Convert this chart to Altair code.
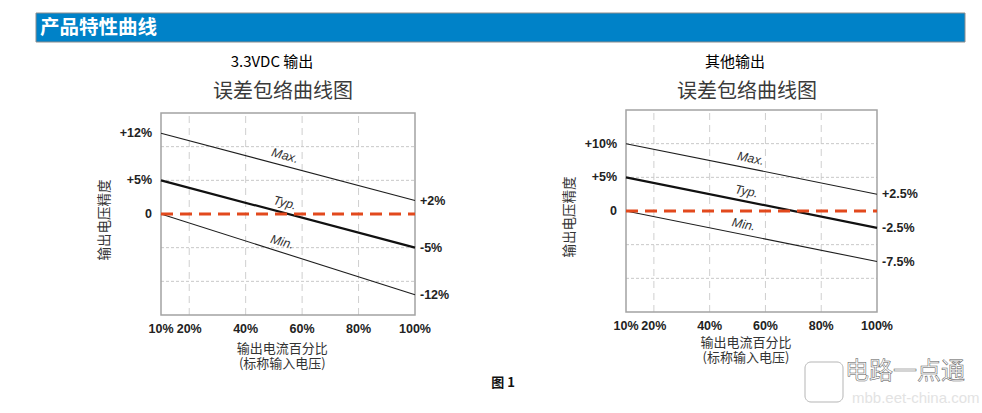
import altair as alt
import pandas as pd

# ---------------- data ----------------
X_DOMAIN = [10, 100]
Y_DOMAIN = [-15, 15]
series_names = ["Max.", "Typ.", "Min."]
x_ends = [10, 100]

left_max = [12, 2]
left_typ = [5, -5]
left_min = [0, -12]
right_max = [10, 2.5]
right_typ = [5, -2.5]
right_min = [0, -7.5]

left_start_labels = ["+12%", "+5%", "0"]
left_end_labels = ["+2%", "-5%", "-12%"]
right_start_labels = ["+10%", "+5%", "0"]
right_end_labels = ["+2.5%", "-2.5%", "-7.5%"]

x_tick_values = [10, 20, 40, 60, 80, 100]
x_tick_labels = ["10%", "20%", "40%", "60%", "80%", "100%"]
v_grid_values = [20, 40, 60, 80]
h_grid_values = [-10, -5, 5, 10]
zero_value = [0]

left_name_x = [53, 53, 52]
right_name_x = [54, 52.5, 51.5]

header_text = "产品特性曲线"
left_title = "3.3VDC 输出"
right_title = "其他输出"
subtitle = "误差包络曲线图"
y_title = "输出电压精度"
x_title = "输出电流百分比\n(标称输入电压)"
caption = "图 1"

CJK = "Noto Sans CJK SC"
LAT = "Liberation Sans"


def panel(maxv, typv, minv, start_labels, end_labels, name_x, xr, yr, angle, xt_dy):
    xs = alt.Scale(domain=X_DOMAIN, range=xr, nice=False, zero=False)
    ys = alt.Scale(domain=Y_DOMAIN, range=yr, nice=False, zero=False)

    def X(f):
        return alt.X(f, type="quantitative", scale=xs, axis=None)

    def Y(f):
        return alt.Y(f, type="quantitative", scale=ys, axis=None)

    vals = {"Max.": maxv, "Typ.": typv, "Min.": minv}
    lines_df = pd.DataFrame(
        [{"series": s, "x": x, "y": vals[s][i]} for s in series_names for i, x in enumerate(x_ends)]
    )
    vgrid = pd.DataFrame({"x": v_grid_values, "y0": Y_DOMAIN[0], "y1": Y_DOMAIN[1]})
    hgrid = pd.DataFrame({"y": h_grid_values, "x0": X_DOMAIN[0], "x1": X_DOMAIN[1]})
    frame = pd.DataFrame({"x0": [X_DOMAIN[0]], "x1": [X_DOMAIN[1]], "y0": [Y_DOMAIN[0]], "y1": [Y_DOMAIN[1]]})
    zero = pd.DataFrame({"y": zero_value, "x0": X_DOMAIN[0], "x1": X_DOMAIN[1]})
    starts = pd.DataFrame({"x": x_ends[0], "y": [vals[s][0] for s in series_names], "label": start_labels})
    ends = pd.DataFrame({"x": x_ends[1], "y": [vals[s][1] for s in series_names], "label": end_labels})
    ticks = pd.DataFrame({"x": x_tick_values, "y": Y_DOMAIN[0], "label": x_tick_labels})
    names = pd.DataFrame({
        "series": series_names,
        "x": name_x,
        "y": [vals[s][0] + (vals[s][1] - vals[s][0]) * (nx - x_ends[0]) / (x_ends[1] - x_ends[0])
              for s, nx in zip(series_names, name_x)],
    })
    ytitle_df = pd.DataFrame({"x": [X_DOMAIN[0]], "y": [0], "t": [y_title]})
    xtitle_df = pd.DataFrame({"x": [53], "y": [Y_DOMAIN[0]], "t": [x_title]})

    l_vgrid = alt.Chart(vgrid).mark_rule(color="#cfcfcf", strokeWidth=1, strokeDash=[7, 5]).encode(
        x=X("x"), y=Y("y0"), y2="y1")
    l_hgrid = alt.Chart(hgrid).mark_rule(color="#c8c8c8", strokeWidth=1, strokeDash=[3, 2]).encode(
        y=Y("y"), x=X("x0"), x2="x1")
    l_frame = alt.Chart(frame).mark_rect(fill="transparent", stroke="#a3a3a3", strokeWidth=1.5).encode(
        x=X("x0"), x2="x1", y=Y("y0"), y2="y1")
    l_thin = alt.Chart(lines_df).transform_filter(alt.datum.series != "Typ.").mark_line(
        color="#1e1e1e", strokeWidth=1.1).encode(x=X("x"), y=Y("y"), detail="series:N")
    l_thick = alt.Chart(lines_df).transform_filter(alt.datum.series == "Typ.").mark_line(
        color="#111111", strokeWidth=2.2).encode(x=X("x"), y=Y("y"), detail="series:N")
    l_zero = alt.Chart(zero).mark_rule(color="#E2491D", strokeWidth=3, strokeDash=[12, 7]).encode(
        y=Y("y"), x=X("x0"), x2="x1")
    l_names = alt.Chart(names).mark_text(font=LAT, fontStyle="italic", fontSize=12.5, color="#333333",
                                         angle=angle, baseline="bottom", dy=-3).encode(
        x=X("x"), y=Y("y"), text="series:N")
    l_starts = alt.Chart(starts).mark_text(font=LAT, fontWeight="bold", fontSize=12.5, color="#222222",
                                           align="right", baseline="middle", dx=-9).encode(
        x=X("x"), y=Y("y"), text="label:N")
    l_ends = alt.Chart(ends).mark_text(font=LAT, fontWeight="bold", fontSize=12.5, color="#222222",
                                       align="left", baseline="middle", dx=5).encode(
        x=X("x"), y=Y("y"), text="label:N")
    l_ticks = alt.Chart(ticks).mark_text(font=LAT, fontWeight="bold", fontSize=12.5, color="#222222",
                                         align="center", baseline="middle", dy=14).encode(
        x=X("x"), y=Y("y"), text="label:N")
    l_ytitle = alt.Chart(ytitle_df).mark_text(font=CJK, fontSize=13.5, color="#333333", angle=270,
                                              align="center", baseline="middle", dy=-56, dx=-6).encode(
        x=X("x"), y=Y("y"), text="t:N")
    l_xtitle = alt.Chart(xtitle_df).mark_text(font=CJK, fontSize=13, color="#333333", align="center",
                                              baseline="top", dy=xt_dy, lineBreak="\n", lineHeight=15).encode(
        x=X("x"), y=Y("y"), text="t:N")
    return alt.layer(l_vgrid, l_hgrid, l_frame, l_thin, l_thick, l_zero, l_names, l_starts, l_ends, l_ticks,
                     l_ytitle, l_xtitle)


one = pd.DataFrame({"k": [0]})


def label(text, x, y, size, color="#111111", weight="normal", align="center", font=CJK):
    return alt.Chart(one).mark_text(text=text, font=font, fontSize=size, color=color, fontWeight=weight,
                                    align=align, baseline="middle").encode(x=alt.value(x), y=alt.value(y))


header = alt.Chart(one).mark_rect(fill="#0082C8", stroke="#8c8c8c", strokeWidth=1).encode(
    x=alt.value(36), x2=alt.value(965), y=alt.value(13), y2=alt.value(42))
header_lbl = label(header_text, 40, 28, 19.5, color="#ffffff", weight="bold", align="left")

t_left = label(left_title, 272, 62, 15, color="#000000")
t_right = label(right_title, 735, 62, 15, color="#000000")
s_left = label(subtitle, 283, 92, 20, color="#3a3a3a")
s_right = label(subtitle, 747, 92, 20, color="#3a3a3a")
cap = label(caption, 503, 383, 13, color="#111111", weight="bold")

p_left = panel(left_max, left_typ, left_min, left_start_labels, left_end_labels, left_name_x,
               [161, 415], [315, 113], 15, 28)
p_right = panel(right_max, right_typ, right_min, right_start_labels, right_end_labels, right_name_x,
                [626, 877], [312, 110], 11.5, 25)

# faint watermark
wm_logo = alt.Chart(one).mark_rect(fill="#ffffff", stroke="#b5b5b5", strokeWidth=1, cornerRadius=6).encode(
    x=alt.value(805), x2=alt.value(843), y=alt.value(362), y2=alt.value(402))
wm_text = alt.Chart(one).mark_text(text="电路一点通", font=CJK, fontSize=24, fill="#ffffff", stroke="#555555",
                                   strokeWidth=0.5, align="left", baseline="middle").encode(
    x=alt.value(845), y=alt.value(372))
wm_url = alt.Chart(one).mark_text(text="mbb.eet-china.com", font=LAT, fontSize=15, color="#e3e3e3",
                                  align="left", baseline="middle").encode(x=alt.value(852), y=alt.value(398))

chart = alt.layer(
    header, header_lbl, t_left, t_right, s_left, s_right,
    p_left, p_right, cap, wm_logo, wm_text, wm_url,
).resolve_scale(x="independent", y="independent").properties(
    width=982, height=413, padding=0, autosize=alt.AutoSizeParams(type="none"), background="#ffffff"
).configure_view(strokeWidth=0)

chart.save("out.html", embed_options={"renderer": "svg", "actions": False})
